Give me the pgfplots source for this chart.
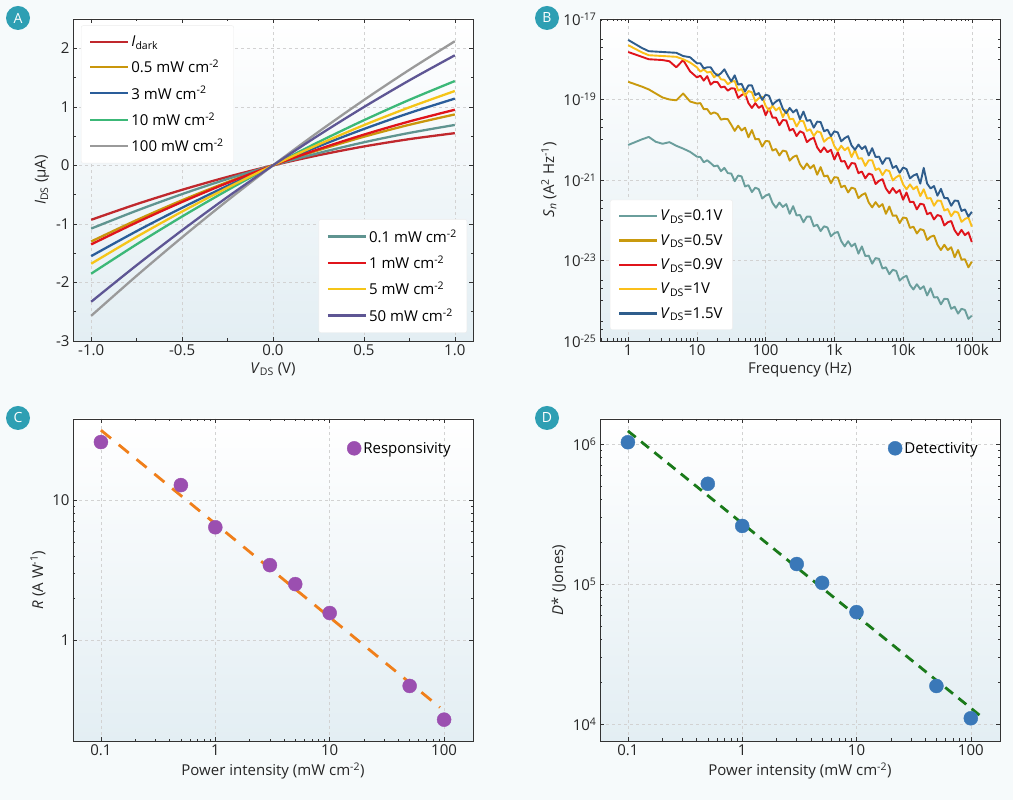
\documentclass[border=0pt]{standalone}
\usepackage{pgfplots}
\pgfplotsset{compat=1.18}
\usepackage{pgfplotstable}
\usepackage{fontspec}
\setmainfont{Open Sans}
\definecolor{pagebg}{HTML}{F6FAFB}
\definecolor{axbg}{HTML}{E3EEF3}
\definecolor{badge}{HTML}{2E9FB3}
\definecolor{cdark}{HTML}{C0282D}
\definecolor{cpfive}{HTML}{C9960C}
\definecolor{cthree}{HTML}{2A5D9A}
\definecolor{cten}{HTML}{3CB878}
\definecolor{chund}{HTML}{9A9A9A}
\definecolor{cpone}{HTML}{5F9490}
\definecolor{cone}{HTML}{E0141B}
\definecolor{cfive}{HTML}{F5C518}
\definecolor{cfifty}{HTML}{5E5694}
\definecolor{nA}{HTML}{6A9E9C}
\definecolor{nB}{HTML}{C99A0E}
\definecolor{nC}{HTML}{E0141B}
\definecolor{nD}{HTML}{FBBF1A}
\definecolor{nE}{HTML}{2F5D8C}
\definecolor{rpurple}{HTML}{9B4FB0}
\definecolor{rorange}{HTML}{F07F1A}
\definecolor{dblue}{HTML}{3A78B8}
\definecolor{dgreen}{HTML}{1A7A1A}

\pgfplotstableread{
V dark p01 p05 p1 p3 p5 p10 p50 p100
-1.00 -0.930 -1.080 -1.300 -1.350 -1.550 -1.680 -1.850 -2.330 -2.570
-0.75 -0.662 -0.774 -0.935 -0.975 -1.124 -1.221 -1.349 -1.706 -1.886
-0.50 -0.418 -0.491 -0.596 -0.625 -0.724 -0.789 -0.874 -1.109 -1.229
-0.25 -0.197 -0.233 -0.285 -0.300 -0.349 -0.382 -0.424 -0.540 -0.600
0.00 0 0 0 0 0 0 0 0 0
0.25 0.173 0.209 0.258 0.275 0.323 0.356 0.398 0.512 0.572
0.50 0.323 0.394 0.489 0.525 0.621 0.687 0.771 0.996 1.116
0.75 0.448 0.554 0.693 0.750 0.894 0.991 1.119 1.452 1.632
1.00 0.550 0.690 0.870 0.950 1.140 1.270 1.440 1.880 2.120
}\ivdata

\pgfplotstableread{
lf A B C D E
0.0 -20.13 -18.56 -17.82 -17.65 -17.52
0.1 -20.06 -18.62 -17.88 -17.74 -17.62
0.2 -19.99 -18.68 -17.94 -17.83 -17.72
0.3 -19.93 -18.75 -18.00 -17.90 -17.80
0.4 -20.05 -18.85 -18.01 -17.91 -17.81
0.5 -20.10 -18.95 -18.02 -17.92 -17.82
0.6 -20.06 -19.00 -18.05 -17.93 -17.83
0.7 -20.15 -19.02 -18.20 -17.94 -17.84
0.8 -20.22 -18.85 -18.02 -18.00 -17.92
0.9 -20.30 -19.05 -18.30 -18.08 -17.95
1.0 -20.42 -19.10 -18.45 -18.20 -18.10
1.05 -20.43 -19.09 -18.41 -18.31 -18.10
1.10 -20.56 -19.24 -18.53 -18.25 -18.23
1.15 -20.51 -19.24 -18.42 -18.33 -18.20
1.20 -20.58 -19.36 -18.63 -18.31 -18.20
1.25 -20.66 -19.32 -18.56 -18.45 -18.33
1.30 -20.64 -19.36 -18.57 -18.37 -18.41
1.35 -20.78 -19.50 -18.70 -18.50 -18.35
1.40 -20.70 -19.48 -18.68 -18.51 -18.25
1.45 -20.83 -19.49 -18.78 -18.62 -18.41
1.50 -20.84 -19.63 -18.72 -18.56 -18.55
1.55 -21.03 -19.78 -18.73 -18.54 -18.40
1.60 -20.89 -19.65 -18.96 -18.78 -18.63
1.65 -20.91 -19.77 -18.89 -18.74 -18.61
1.70 -21.16 -19.70 -18.85 -18.91 -18.80
1.75 -21.13 -19.94 -19.09 -18.79 -18.65
1.80 -21.30 -19.76 -19.21 -18.82 -18.65
1.85 -21.19 -19.99 -19.09 -19.05 -18.89
1.90 -21.23 -19.98 -19.21 -18.97 -18.84
1.95 -21.46 -20.17 -19.15 -18.93 -19.01
2.00 -21.39 -20.03 -19.39 -19.16 -18.88
2.05 -21.35 -20.04 -19.22 -19.28 -18.91
2.10 -21.57 -20.27 -19.45 -19.15 -19.13
2.15 -21.69 -20.23 -19.45 -19.27 -19.05
2.20 -21.56 -20.39 -19.64 -19.20 -19.00
2.25 -21.67 -20.27 -19.51 -19.44 -19.23
2.30 -21.60 -20.29 -19.52 -19.26 -19.34
2.35 -21.84 -20.52 -19.77 -19.49 -19.21
2.40 -21.65 -20.43 -19.73 -19.48 -19.32
2.45 -21.88 -20.39 -19.91 -19.67 -19.25
2.50 -21.87 -20.61 -19.79 -19.53 -19.49
2.55 -22.05 -20.73 -19.83 -19.54 -19.30
2.60 -21.91 -20.59 -20.06 -19.78 -19.53
2.65 -21.91 -20.71 -19.99 -19.74 -19.51
2.70 -22.15 -20.63 -19.95 -19.91 -19.70
2.75 -22.11 -20.87 -20.19 -19.79 -19.55
2.80 -22.27 -20.68 -20.31 -19.82 -19.56
2.85 -22.15 -20.91 -20.19 -20.05 -19.79
2.90 -22.18 -20.89 -20.31 -19.97 -19.75
2.95 -22.40 -21.08 -20.25 -19.93 -19.91
3.00 -22.32 -20.93 -20.49 -20.16 -19.79
3.05 -22.29 -20.94 -20.31 -20.28 -19.82
3.10 -22.52 -21.18 -20.54 -20.15 -20.04
3.15 -22.65 -21.14 -20.53 -20.26 -19.96
3.20 -22.52 -21.31 -20.72 -20.19 -19.91
3.25 -22.65 -21.19 -20.58 -20.43 -20.14
3.30 -22.58 -21.22 -20.59 -20.25 -20.25
3.35 -22.83 -21.45 -20.83 -20.47 -20.12
3.40 -22.65 -21.37 -20.79 -20.46 -20.23
3.45 -22.89 -21.33 -20.96 -20.65 -20.16
3.50 -22.88 -21.56 -20.84 -20.51 -20.39
3.55 -23.08 -21.68 -20.87 -20.51 -20.21
3.60 -22.94 -21.55 -21.10 -20.75 -20.43
3.65 -22.96 -21.67 -21.02 -20.71 -20.42
3.70 -23.20 -21.60 -20.98 -20.88 -20.60
3.75 -23.17 -21.84 -21.21 -20.75 -20.46
3.80 -23.34 -21.66 -21.33 -20.78 -20.46
3.85 -23.23 -21.89 -21.20 -21.01 -20.70
3.90 -23.26 -21.88 -21.32 -20.93 -20.65
3.95 -23.50 -22.07 -21.25 -20.88 -20.82
4.00 -23.42 -21.93 -21.49 -21.11 -20.69
4.05 -23.38 -21.95 -21.31 -21.23 -20.73
4.10 -23.61 -22.19 -21.55 -21.11 -20.96
4.15 -23.72 -22.16 -21.54 -21.23 -20.89
4.20 -23.59 -22.33 -21.73 -21.16 -20.85
4.25 -23.71 -22.22 -21.59 -21.40 -21.09
4.30 -23.64 -22.25 -21.61 -21.23 -20.70
4.35 -23.87 -22.49 -21.85 -21.46 -21.09
4.40 -23.69 -22.41 -21.81 -21.45 -21.21
4.45 -23.92 -22.38 -21.98 -21.64 -21.15
4.50 -23.91 -22.61 -21.87 -21.51 -21.39
4.55 -24.09 -22.74 -21.90 -21.52 -21.22
4.60 -23.95 -22.61 -22.13 -21.76 -21.45
4.65 -23.96 -22.74 -22.05 -21.72 -21.45
4.70 -24.20 -22.67 -22.02 -21.90 -21.64
4.75 -24.15 -22.92 -22.25 -21.78 -21.51
4.80 -24.32 -22.74 -22.37 -21.81 -21.52
4.85 -24.20 -22.98 -22.24 -22.04 -21.77
4.90 -24.23 -22.97 -22.37 -21.97 -21.73
4.95 -24.45 -23.17 -22.30 -21.93 -21.91
5.00 -24.37 -23.03 -22.54 -22.16 -21.79
}\noisedata

\pgfplotsset{
  panel/.style={
    scale only axis, width=400pt, height=322pt, anchor=south west,
    axis background/.style={top color=white, bottom color=axbg},
    tick align=inside, major tick length=4pt, minor tick length=2.5pt,
    grid=major, grid style={dashed, gray!35, line width=0.4pt},
    axis line style={line width=0.9pt, black!80},
    tick style={black!80, line width=0.6pt},
    tick label style={font=\fontsize{15}{17}\selectfont, text=black!85},
    label style={font=\fontsize{15}{17}\selectfont, text=black!85},
    /pgf/number format/assume math mode=true,
    legend cell align=left,
    legend style={font=\fontsize{15}{17}\selectfont, fill=white, draw=gray!15, rounded corners=2pt, row sep=8pt, inner xsep=8pt, inner ysep=8pt},
    legend image code/.code={\draw[#1, line width=2.2pt] (0pt,0pt)--(38pt,0pt);},
  },
}

\begin{document}
\begin{tikzpicture}
\useasboundingbox (0,0) rectangle (1013pt,800pt);
\fill[pagebg] (0,0) rectangle (1013pt,800pt);

% ---------- Panel A ----------
\begin{axis}[panel, at={(73pt,459pt)},
  xmin=-1.1, xmax=1.1, ymin=-3, ymax=2.5,
  xtick={-1,-0.5,0,0.5,1}, ytick={-3,-2,-1,0,1,2},
  minor x tick num=1, minor y tick num=1,
  xticklabel style={/pgf/number format/.cd, fixed, fixed zerofill, precision=1},
  yticklabel style={/pgf/number format/.cd, fixed, precision=0},
  xlabel={\textit{V}\textsubscript{DS} (V)}, ylabel={\textit{I}\textsubscript{DS} (µA)},
  legend style={at={(0.02,0.98)}, anchor=north west},
  every axis plot/.append style={line width=2.3pt, smooth, no marks}]
\addplot[cdark] table[x=V,y=dark]{\ivdata};
\addlegendentry{\textit{I}\textsubscript{dark}}
\addplot[cpfive] table[x=V,y=p05]{\ivdata};
\addlegendentry{0.5 mW cm\textsuperscript{-2}}
\addplot[cthree] table[x=V,y=p3]{\ivdata};
\addlegendentry{3 mW cm\textsuperscript{-2}}
\addplot[cten] table[x=V,y=p10]{\ivdata};
\addlegendentry{10 mW cm\textsuperscript{-2}}
\addplot[chund] table[x=V,y=p100]{\ivdata};
\addlegendentry{100 mW cm\textsuperscript{-2}}
\end{axis}
\begin{axis}[panel, at={(73pt,459pt)},
  axis background/.style={}, axis lines=none, grid=none,
  xmin=-1.1, xmax=1.1, ymin=-3, ymax=2.5,
  legend style={at={(0.985,0.025)}, anchor=south east},
  every axis plot/.append style={line width=2.3pt, smooth, no marks}]
\addplot[cpone] table[x=V,y=p01]{\ivdata};
\addlegendentry{0.1 mW cm\textsuperscript{-2}}
\addplot[cone] table[x=V,y=p1]{\ivdata};
\addlegendentry{1 mW cm\textsuperscript{-2}}
\addplot[cfive] table[x=V,y=p5]{\ivdata};
\addlegendentry{5 mW cm\textsuperscript{-2}}
\addplot[cfifty] table[x=V,y=p50]{\ivdata};
\addlegendentry{50 mW cm\textsuperscript{-2}}
\end{axis}

% ---------- Panel B ----------
\begin{axis}[panel, at={(600pt,459pt)},
  xmin=-0.41, xmax=5.41, ymin=-25, ymax=-17,
  xtick={0,1,2,3,4,5}, xticklabels={1,10,100,1k,10k,100k},
  minor xtick={-0.398,-0.301,-0.222,-0.155,-0.097,-0.046,
    0.301,0.477,0.602,0.699,0.778,0.845,0.903,0.954,
    1.301,1.477,1.602,1.699,1.778,1.845,1.903,1.954,
    2.301,2.477,2.602,2.699,2.778,2.845,2.903,2.954,
    3.301,3.477,3.602,3.699,3.778,3.845,3.903,3.954,
    4.301,4.477,4.602,4.699,4.778,4.845,4.903,4.954,5.301},
  ytick={-25,-23,-21,-19,-17},
  yticklabels={10\textsuperscript{-25},10\textsuperscript{-23},10\textsuperscript{-21},10\textsuperscript{-19},10\textsuperscript{-17}},
  minor ytick={-24.7,-24.5,-24,-23.7,-23.5,-22,-21.7,-21.5,-20,-19.7,-19.5,-18,-17.7,-17.5},
  xlabel={Frequency (Hz)}, ylabel={\textit{S}\textsubscript{\textit{n}} (A\textsuperscript{2} Hz\textsuperscript{-1})},
  legend style={at={(0.025,0.035)}, anchor=south west},
  every axis plot/.append style={line width=1.9pt, no marks, line join=round}]
\addplot[nA] table[x=lf,y=A]{\noisedata};
\addlegendentry{\textit{V}\textsubscript{DS}=0.1V}
\addplot[nB] table[x=lf,y=B]{\noisedata};
\addlegendentry{\textit{V}\textsubscript{DS}=0.5V}
\addplot[nC] table[x=lf,y=C]{\noisedata};
\addlegendentry{\textit{V}\textsubscript{DS}=0.9V}
\addplot[nD] table[x=lf,y=D]{\noisedata};
\addlegendentry{\textit{V}\textsubscript{DS}=1V}
\addplot[nE] table[x=lf,y=E]{\noisedata};
\addlegendentry{\textit{V}\textsubscript{DS}=1.5V}
\end{axis}

% ---------- Panel C ----------
\begin{axis}[panel, at={(73pt,59pt)}, xmode=log, ymode=log,
  xmin=0.057, xmax=179, ymin=0.19, ymax=38,
  xtick={0.1,1,10,100}, xticklabels={0.1,1,10,100},
  ytick={1,10}, yticklabels={1,10},
  xlabel={Power intensity (mW cm\textsuperscript{-2})}, ylabel={\textit{R} (A W\textsuperscript{-1})},
  legend style={at={(0.97,0.96)}, anchor=north east, draw=none, fill=none},
  legend image code/.code={\fill[rpurple] (0pt,0pt) circle (7pt);}]
\addplot[rorange, line width=2.8pt, dash pattern=on 13pt off 10pt, no marks, forget plot]
  coordinates {(0.1,31.6) (92,0.33)};
\addplot[only marks, mark=*, mark size=7pt, color=rpurple]
  coordinates {(0.1,26) (0.5,12.8) (1,6.4) (3,3.43) (5,2.51) (10,1.56) (50,0.47) (100,0.27)};
\addlegendentry{Responsivity}
\end{axis}

% ---------- Panel D ----------
\begin{axis}[panel, at={(600pt,59pt)}, xmode=log, ymode=log,
  xmin=0.057, xmax=180, ymin=7570, ymax=1510000,
  xtick={0.1,1,10,100}, xticklabels={0.1,1,10,100},
  ytick={1e4,1e5,1e6}, yticklabels={10\textsuperscript{4},10\textsuperscript{5},10\textsuperscript{6}},
  xlabel={Power intensity (mW cm\textsuperscript{-2})}, ylabel={\textit{D}* (Jones)},
  legend style={at={(0.97,0.96)}, anchor=north east, draw=none, fill=none},
  legend image code/.code={\fill[dblue] (0pt,0pt) circle (7pt);}]
\addplot[dgreen, line width=2.8pt, dash pattern=on 10pt off 7pt, no marks, forget plot]
  coordinates {(0.1,1.24e6) (122,1.14e4)};
\addplot[only marks, mark=*, mark size=7pt, color=dblue]
  coordinates {(0.1,1.03e6) (0.5,5.2e5) (1,2.6e5) (3,1.39e5) (5,1.02e5) (10,6.3e4) (50,1.87e4) (100,1.1e4)};
\addlegendentry{Detectivity}
\end{axis}

% panel badges
\foreach \lab/\px/\py in {A/18/782, B/547/782, C/18/382, D/547/382}{
  \fill[badge] (\px pt,\py pt) circle (12pt);
  \node[text=white, font=\fontsize{14}{16}\selectfont] at (\px pt,\py pt) {\lab};
}
\end{tikzpicture}
\end{document}
